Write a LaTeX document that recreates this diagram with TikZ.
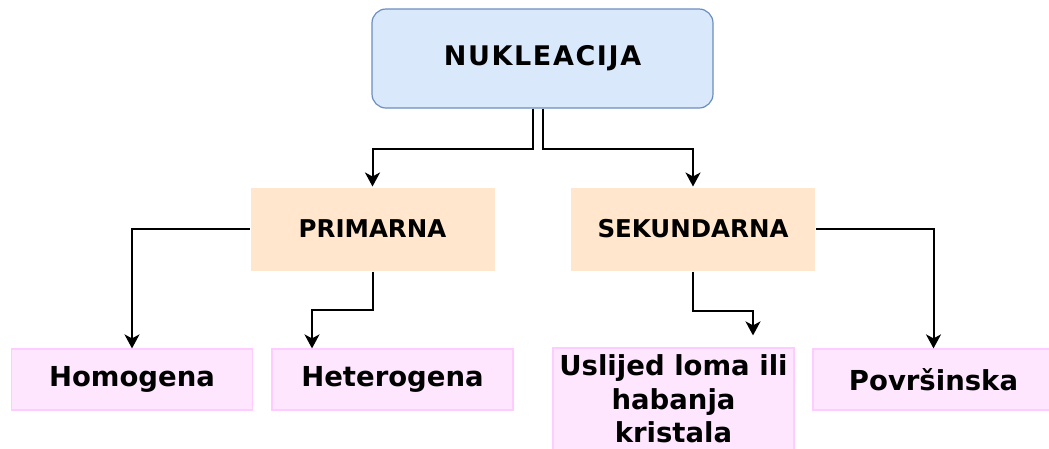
\documentclass[tikz,border=0pt]{standalone}
\usepackage{fontspec}
\setmainfont{DejaVu Sans}
\usetikzlibrary{arrows.meta}
\definecolor{nukfill}{HTML}{DAE8FC}
\definecolor{nukline}{HTML}{6C8EBF}
\definecolor{vrstafill}{HTML}{FFE6CC}
\definecolor{tipfill}{HTML}{FFE6FF}
\definecolor{tipline}{HTML}{FFCCFF}
\begin{document}
\begin{tikzpicture}
[x=1pt,y=-1pt,line width=2pt,color=black,
 -{Stealth[length=14pt,width=15pt,inset=4pt]},
 glavni/.style={rounded corners=14pt,fill=nukfill,draw=nukline,line width=1.2pt,
   minimum width=341pt,minimum height=99pt,inner sep=0pt,
   font=\fontsize{27}{32}\selectfont\bfseries\addfontfeature{LetterSpace=6}},
 vrsta/.style={fill=vrstafill,minimum width=244pt,minimum height=83pt,inner sep=0pt,
   font=\fontsize{24.5}{29}\selectfont\bfseries},
 tip/.style={fill=tipfill,draw=tipline,line width=1.2pt,minimum width=241pt,
   minimum height=61pt,inner sep=0pt,align=center,
   font=\fontsize{27.5}{33.5}\selectfont\bfseries}]
\useasboundingbox (0,0) rectangle (1049,448);
\clip (0,0) rectangle (1049,448);
\node [glavni] (nuk) at (542.5,58.5) {NUKLEACIJA};
\node [vrsta] (prim) at (372.5,229) {PRIMARNA};
\node [vrsta] (sek) at (693,229) {SEKUNDARNA};
\node [tip] (hom) at (132,379.5) {Homogena};
\node [tip] (het) at (392.5,379.5) {Heterogena};
\node [tip,minimum height=102pt] (usl) at (673.5,399) {Uslijed loma ili\\habanja\\kristala};
\node [tip] (pov) at (933.5,379.5) {Površinska};
\draw ([xshift=-9.5pt]nuk.south) -- ++(0,40) -| (prim.north);
\draw (nuk.south) -- ++(0,40) -| (sek.north);
\draw (prim.west) -| (hom.north);
\draw (prim.south) -- ++(0,38) -| ([xshift=-80.5pt]het.north);
\draw [shorten >=12pt] (sek.south) -- ++(0,39) -| ([xshift=79.5pt]usl.north);
\draw (sek.east) -| (pov.north);
\end{tikzpicture}
\end{document}
